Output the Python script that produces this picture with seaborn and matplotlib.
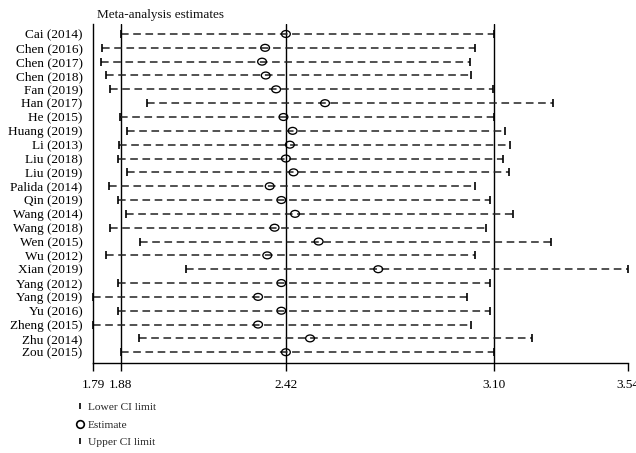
import numpy as np
import pandas as pd
import matplotlib
matplotlib.use("Agg")
import matplotlib.pyplot as plt
from matplotlib.path import Path
from matplotlib.transforms import Affine2D
from matplotlib.lines import Line2D
import seaborn as sns

studies = ["Cai (2014)", "Chen (2016)", "Chen (2017)", "Chen (2018)", "Fan (2019)",
           "Han (2017)", "He (2015)", "Huang (2019)", "Li (2013)", "Liu (2018)",
           "Liu (2019)", "Palida (2014)", "Qin (2019)", "Wang (2014)", "Wang (2018)",
           "Wen (2015)", "Wu (2012)", "Xian (2019)", "Yang (2012)", "Yang (2019)",
           "Yu (2016)", "Zheng (2015)", "Zhu (2014)", "Zou (2015)"]
lower = [1.88, 1.818, 1.816, 1.831, 1.844, 1.967, 1.877, 1.899, 1.874, 1.872,
         1.899, 1.842, 1.872, 1.898, 1.844, 1.942, 1.833, 2.092, 1.872, 1.79,
         1.872, 1.79, 1.94, 1.881]
estimate = [2.42, 2.352, 2.342, 2.354, 2.388, 2.548, 2.412, 2.442, 2.433, 2.42,
            2.445, 2.367, 2.405, 2.450, 2.383, 2.527, 2.359, 2.722, 2.405, 2.329,
            2.405, 2.329, 2.499, 2.42]
upper = [3.10, 3.037, 3.022, 3.025, 3.097, 3.295, 3.100, 3.138, 3.152, 3.129,
         3.151, 3.040, 3.088, 3.163, 3.074, 3.288, 3.037, 3.54, 3.088, 3.014,
         3.088, 3.026, 3.226, 3.10]
ref_lines = [1.88, 2.42, 3.10]
x_ticks = [1.79, 1.88, 2.42, 3.10, 3.54]
x_ticklabels = ["1.79", "1.88", "2.42", "3.10", "3.54"]
title = "Meta-analysis estimates"
legend_labels = ["Lower CI limit", "Estimate", "Upper CI limit"]

df = pd.DataFrame({"study": studies, "lower": lower, "estimate": estimate, "upper": upper})

sns.set_style("white")
plt.rcParams["font.family"] = ["Liberation Serif", "DejaVu Serif"]

fig = plt.figure(figsize=(6.36, 4.53), dpi=100)
ax = fig.add_axes([93.3 / 636, 1 - 363.3 / 453, (628.3 - 93.3) / 636, (363.3 - 24.3) / 453])

ypos = np.arange(len(df))
ax.hlines(ypos, df["lower"], df["upper"], linestyles=(0, (5, 3)), lw=1.1, color="#222222", zorder=2)
for v in ref_lines:
    ax.axvline(v, color="black", lw=1.0, zorder=1)

ell = Path.unit_circle().transformed(Affine2D().scale(1.0, 0.78))
sns.scatterplot(data=df, x="estimate", y="study", marker=ell, s=40, facecolors="none",
                edgecolor="black", linewidth=0.95, ax=ax, zorder=4, clip_on=False)
ax.plot(df["lower"], ypos, ls="none", marker="|", ms=5.8, mew=1.2, color="black", zorder=3, clip_on=False)
ax.plot(df["upper"], ypos, ls="none", marker="|", ms=5.8, mew=1.2, color="black", zorder=3, clip_on=False)

ax.set_xlim(1.79, 3.54)
ax.set_ylim(len(df) - 1 + 0.8, -0.7)
ax.set_xticks(x_ticks)
ax.set_xticklabels(x_ticklabels)
ax.set_yticks(ypos)
ax.set_yticklabels(studies)
ax.set_xlabel("")
ax.set_ylabel("")
ax.tick_params(axis="x", direction="out", length=6, width=1.0, pad=5, labelsize=9.5, colors="black")
ax.tick_params(axis="y", length=0, pad=7.6, labelsize=9.5, colors="black")
ax.xaxis.set_ticks_position("bottom")
for s in ["top", "right"]:
    ax.spines[s].set_visible(False)
for s in ["left", "bottom"]:
    ax.spines[s].set_color("black")
    ax.spines[s].set_linewidth(1.0)

fig.text(97 / 636, 1 - 15 / 453, title, ha="left", va="center", fontsize=9.5, color="#111111")

handles = [
    Line2D([], [], ls="none", marker="|", ms=5, mew=1.2, color="black"),
    Line2D([], [], ls="none", marker="o", ms=5.5, mfc="none", mew=1.2, color="black"),
    Line2D([], [], ls="none", marker="|", ms=5, mew=1.2, color="black"),
]
fig.legend(handles, legend_labels, loc="upper left", bbox_to_anchor=(75.6 / 636, 1 - 402 / 453),
           frameon=False, fontsize=8.2, handlelength=0.8, handletextpad=0.3, labelspacing=0.68,
           borderpad=0, borderaxespad=0)

fig.savefig("out.png", dpi=100)
